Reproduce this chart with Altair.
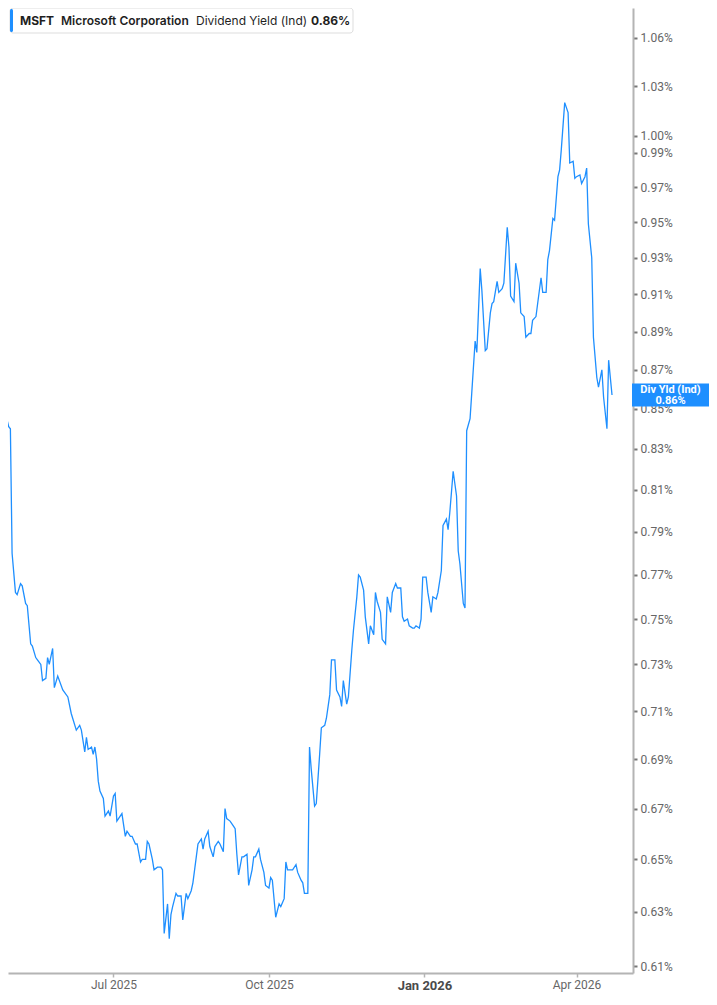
import altair as alt
import pandas as pd

# ---- data (MSFT dividend yield, %) ----
dates = [
    "2025-04-25", "2025-04-26", "2025-04-27", "2025-04-28", "2025-04-30",
    "2025-05-01", "2025-05-02", "2025-05-04", "2025-05-05", "2025-05-07", "2025-05-08", "2025-05-10",
    "2025-05-11", "2025-05-13", "2025-05-14", "2025-05-16", "2025-05-17", "2025-05-19", "2025-05-20",
    "2025-05-22", "2025-05-23", "2025-05-24", "2025-05-26", "2025-05-27", "2025-05-29",
    "2025-06-01", "2025-06-04", "2025-06-06", "2025-06-09", "2025-06-11", "2025-06-12", "2025-06-14",
    "2025-06-15", "2025-06-16", "2025-06-18", "2025-06-19", "2025-06-20", "2025-06-21", "2025-06-22",
    "2025-06-23", "2025-06-25", "2025-06-26", "2025-06-28", "2025-06-29",
    "2025-07-01", "2025-07-02", "2025-07-03", "2025-07-06", "2025-07-08", "2025-07-09", "2025-07-11",
    "2025-07-12", "2025-07-14", "2025-07-15", "2025-07-17", "2025-07-18", "2025-07-20", "2025-07-21",
    "2025-07-22", "2025-07-24", "2025-07-25", "2025-07-27", "2025-07-29", "2025-07-30", "2025-07-31",
    "2025-08-02", "2025-08-03", "2025-08-04", "2025-08-05", "2025-08-07", "2025-08-08", "2025-08-10",
    "2025-08-11", "2025-08-13", "2025-08-14", "2025-08-16", "2025-08-17", "2025-08-19", "2025-08-20",
    "2025-08-22", "2025-08-23", "2025-08-24", "2025-08-26", "2025-08-27", "2025-08-29", "2025-08-30",
    "2025-09-01", "2025-09-02", "2025-09-04", "2025-09-05", "2025-09-06", "2025-09-08", "2025-09-10",
    "2025-09-11", "2025-09-12", "2025-09-13", "2025-09-15", "2025-09-16", "2025-09-18", "2025-09-19",
    "2025-09-21", "2025-09-22", "2025-09-23", "2025-09-25", "2025-09-26", "2025-09-28", "2025-09-29",
    "2025-10-01", "2025-10-02", "2025-10-03", "2025-10-05", "2025-10-07", "2025-10-08", "2025-10-10",
    "2025-10-11", "2025-10-12", "2025-10-14", "2025-10-15", "2025-10-17", "2025-10-18", "2025-10-20",
    "2025-10-21", "2025-10-22", "2025-10-24", "2025-10-25", "2025-10-26", "2025-10-28", "2025-10-29",
    "2025-10-31",
    "2025-11-01", "2025-11-03", "2025-11-04", "2025-11-06", "2025-11-07", "2025-11-09", "2025-11-10",
    "2025-11-12", "2025-11-13", "2025-11-14", "2025-11-16", "2025-11-17", "2025-11-19", "2025-11-20",
    "2025-11-22", "2025-11-23", "2025-11-24", "2025-11-26", "2025-11-27", "2025-11-29", "2025-11-30",
    "2025-12-02", "2025-12-03", "2025-12-04", "2025-12-06", "2025-12-07", "2025-12-09", "2025-12-10",
    "2025-12-12", "2025-12-13", "2025-12-15", "2025-12-16", "2025-12-18", "2025-12-19", "2025-12-20",
    "2025-12-22", "2025-12-23", "2025-12-25", "2025-12-26", "2025-12-27", "2025-12-29", "2025-12-30",
    "2025-12-31",
    "2026-01-02", "2026-01-03", "2026-01-05", "2026-01-06", "2026-01-08", "2026-01-09", "2026-01-11",
    "2026-01-12", "2026-01-14", "2026-01-15", "2026-01-16", "2026-01-18", "2026-01-20", "2026-01-21",
    "2026-01-22", "2026-01-24", "2026-01-25", "2026-01-26", "2026-01-28", "2026-01-29", "2026-01-31",
    "2026-02-01", "2026-02-03", "2026-02-04", "2026-02-06", "2026-02-07", "2026-02-09", "2026-02-10",
    "2026-02-11", "2026-02-13", "2026-02-14", "2026-02-16", "2026-02-17", "2026-02-19", "2026-02-20",
    "2026-02-21", "2026-02-23", "2026-02-24", "2026-02-26", "2026-02-27",
    "2026-03-01", "2026-03-02", "2026-03-04", "2026-03-05", "2026-03-06", "2026-03-08", "2026-03-09",
    "2026-03-11", "2026-03-12", "2026-03-14", "2026-03-15", "2026-03-16", "2026-03-18", "2026-03-19",
    "2026-03-21", "2026-03-22", "2026-03-23", "2026-03-25", "2026-03-27", "2026-03-28", "2026-03-30",
    "2026-03-31",
    "2026-04-01", "2026-04-03", "2026-04-04", "2026-04-06", "2026-04-07", "2026-04-08", "2026-04-10",
    "2026-04-11", "2026-04-13", "2026-04-14", "2026-04-16", "2026-04-17", "2026-04-19", "2026-04-20",
    "2026-04-22",
]

values = [
    0.877, 0.856, 0.847, 0.848, 0.841,
    0.840, 0.780, 0.762, 0.761, 0.766, 0.765, 0.757,
    0.756, 0.739, 0.738, 0.733, 0.732, 0.730, 0.723,
    0.724, 0.733, 0.730, 0.737, 0.720, 0.725,
    0.719, 0.716, 0.709, 0.702, 0.704, 0.702, 0.693,
    0.699, 0.694, 0.695, 0.692, 0.695, 0.690, 0.681,
    0.677, 0.674, 0.667, 0.669, 0.667,
    0.675, 0.676, 0.665, 0.668, 0.659, 0.661, 0.659,
    0.659, 0.656, 0.656, 0.649, 0.650, 0.650, 0.657,
    0.656, 0.650, 0.646, 0.647, 0.647, 0.646, 0.622,
    0.633, 0.620, 0.629, 0.632, 0.637, 0.636, 0.636,
    0.627, 0.637, 0.635, 0.638, 0.641, 0.651, 0.656,
    0.658, 0.654, 0.658, 0.661, 0.655, 0.651, 0.655,
    0.657, 0.656, 0.653, 0.670, 0.666, 0.665, 0.663,
    0.662, 0.652, 0.644, 0.651, 0.651, 0.652, 0.640,
    0.646, 0.651, 0.651, 0.654, 0.650, 0.645, 0.640,
    0.639, 0.643, 0.642, 0.628, 0.633, 0.632, 0.635,
    0.649, 0.646, 0.646, 0.646, 0.648, 0.645, 0.642,
    0.641, 0.637, 0.637, 0.695, 0.686, 0.671, 0.672,
    0.692,
    0.703, 0.704, 0.707, 0.717, 0.732, 0.732, 0.719,
    0.716, 0.712, 0.723, 0.713, 0.716, 0.736, 0.745,
    0.760, 0.770, 0.769, 0.763, 0.751, 0.739, 0.747,
    0.743, 0.762, 0.758, 0.753, 0.741, 0.739, 0.760,
    0.753, 0.762, 0.766, 0.764, 0.764, 0.751, 0.749,
    0.750, 0.747, 0.746, 0.746, 0.747, 0.746, 0.750,
    0.769,
    0.769, 0.762, 0.753, 0.760, 0.759, 0.762, 0.772,
    0.793, 0.796, 0.791, 0.799, 0.819, 0.807, 0.781,
    0.775, 0.757, 0.755, 0.839, 0.845, 0.858, 0.885,
    0.879, 0.924, 0.912, 0.880, 0.881, 0.900, 0.905,
    0.906, 0.917, 0.911, 0.913, 0.916, 0.947, 0.936,
    0.909, 0.906, 0.927, 0.916, 0.900,
    0.898, 0.887, 0.889, 0.889, 0.896, 0.898, 0.905,
    0.919, 0.911, 0.911, 0.929, 0.934, 0.952, 0.951,
    0.976, 0.980, 0.992, 1.020, 1.014, 0.984, 0.985,
    0.975,
    0.976, 0.977, 0.972, 0.976, 0.981, 0.949, 0.930,
    0.887, 0.866, 0.861, 0.870, 0.856, 0.840, 0.875,
    0.857,
]

y_ticks = [0.61, 0.63, 0.65, 0.67, 0.69, 0.71, 0.73, 0.75, 0.77, 0.79, 0.81,
           0.83, 0.85, 0.87, 0.89, 0.91, 0.93, 0.95, 0.97, 0.99, 1.00, 1.03, 1.06]
x_ticks = [(2025, 7), (2025, 10), (2026, 1), (2026, 4)]
header = ["MSFT", "Microsoft Corporation", "Dividend Yield (Ind)"]
tag_name = "Div Yld (Ind)"

BLUE = "#1e8fff"
AXIS_GRAY = "#b4b4b4"

df = pd.DataFrame({"date": dates, "value": values})
last_label = f"{values[-1]:.2f}%"
last = pd.DataFrame({"date": [dates[-1]], "value": [values[-1]],
                     "tag": [tag_name + "\n" + last_label]})
one = pd.DataFrame({"k": [0]})

x_scale = alt.Scale(domain=[alt.DateTime(year=2025, month=4, date=29, hours=14, utc=True),
                            alt.DateTime(year=2026, month=5, date=4, hours=10, utc=True)])
y_scale = alt.Scale(type="log", domain=[0.6075, 1.0791], nice=False, zero=False)

x_axis = alt.Axis(
    values=[alt.DateTime(year=y, month=m, date=1, utc=True) for y, m in x_ticks],
    labelExpr="utcFormat(datum.value, '%b %Y')",
    title=None, grid=False,
    domainColor=AXIS_GRAY, domainWidth=2,
    tickColor=AXIS_GRAY, tickSize=4, tickWidth=1.5,
    labelPadding=2, labelFont="Roboto",
    labelFontSize=alt.condition("utcmonth(datum.value) == 0", alt.value(13), alt.value(12)),
    labelFontWeight=alt.condition("utcmonth(datum.value) == 0", alt.value("bold"), alt.value("normal")),
    labelColor=alt.condition("utcmonth(datum.value) == 0", alt.value("#4a4a4a"), alt.value("#666666")),
    labelFlush=False, labelOverlap=False,
)
y_axis = alt.Axis(
    orient="right", values=y_ticks,
    labelExpr="format(datum.value, '.2f') + '%'",
    title=None, grid=False,
    domainColor=AXIS_GRAY, domainWidth=2,
    tickColor="#777777", tickSize=4, tickWidth=2,
    labelPadding=3, labelFont="Roboto", labelFontSize=12, labelColor="#666666",
    labelFlush=False, labelOverlap=False,
)

line = alt.Chart(df).mark_line(color=BLUE, strokeWidth=1.3, clip=True).encode(
    x=alt.X("date:T", scale=x_scale, axis=x_axis),
    y=alt.Y("value:Q", scale=y_scale, axis=y_axis),
)

box = alt.Chart(one).mark_rect(fill="white", stroke="#dddddd", strokeWidth=1, cornerRadius=3).encode(
    x=alt.value(2), x2=alt.value(345), y=alt.value(0), y2=alt.value(25))
bar = alt.Chart(one).mark_rect(fill=BLUE, cornerRadius=1.5).encode(
    x=alt.value(2), x2=alt.value(5), y=alt.value(1), y2=alt.value(24))

def htext(txt, xpos, weight):
    return alt.Chart(one).mark_text(align="left", baseline="middle", font="Inter", fontSize=12,
                                    fontWeight=weight, color="#1f1f1f").encode(
        x=alt.value(xpos), y=alt.value(12.5), text=alt.value(txt))

t1 = htext(header[0], 12, 700)
t2 = htext(header[1], 53, 600)
t3 = htext(header[2], 188, 400)
t4 = htext(last_label, 303, 700)

tag_rect = alt.Chart(last).mark_rect(color=BLUE, height=23).encode(
    x=alt.value(624), x2=alt.value(701),
    y=alt.Y("value:Q", scale=y_scale, axis=y_axis),
)
tag_text = alt.Chart(last).mark_text(color="white", font="Roboto", fontSize=11, fontWeight="bold",
                                     align="center", baseline="middle", lineBreak="\n",
                                     lineHeight=11, dy=-5.5).encode(
    x=alt.value(662.5), y=alt.Y("value:Q", scale=y_scale, axis=y_axis), text="tag:N")

chart = alt.layer(line, box, bar, t1, t2, t3, t4, tag_rect, tag_text).properties(
    width=625, height=965,
    autosize=alt.AutoSizeParams(type="none"),
    padding={"left": 0, "top": 0, "right": 76, "bottom": 20},
    background="white",
).configure_view(strokeWidth=0)

chart.save("out.html", embed_options={"renderer": "svg", "actions": False})
